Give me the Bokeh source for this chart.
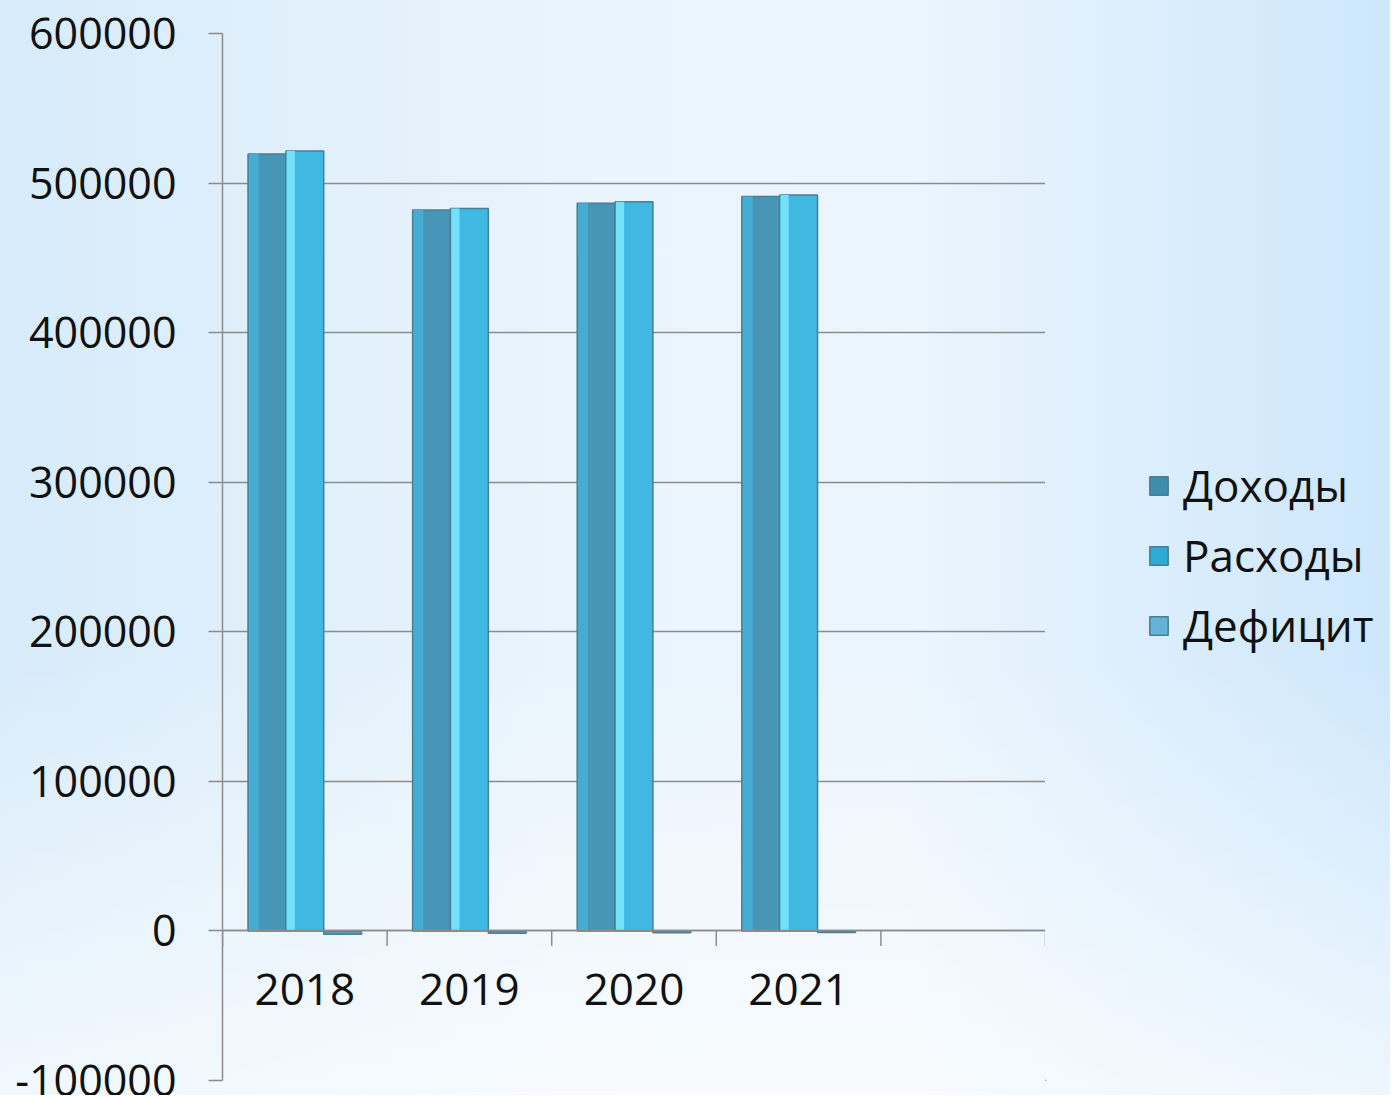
from bokeh.plotting import figure
from bokeh.layouts import row
from bokeh.models import (Range1d, FactorRange, FixedTicker, Legend, LegendItem,
                          ColumnDataSource, PrintfTickFormatter)
from bokeh.transform import dodge
from bokeh.embed import file_html
from bokeh.resources import INLINE

# ---- data ----
years = ["2018", "2019", "2020", "2021"]
slots = years + [" "]
dohody = [519500, 482000, 486500, 491000]
rashody = [521500, 483000, 487500, 492000]
deficit = [-2300, -1500, -1200, -1000]
series_names = ["Доходы", "Расходы", "Дефицит"]
y_ticks = [-100000, 0, 100000, 200000, 300000, 400000, 500000, 600000]

FONT = "Open Sans"
AXIS = "#8c8c8c"
EDGE = "#4d7d93"
COLORS = ["#4896b7", "#3fb8e2", "#5f9ab4"]
src = ColumnDataSource(dict(year=years, d=dohody, r=rashody, f=deficit))

p = figure(width=1045, height=1095, x_range=FactorRange(*slots), y_range=Range1d(-100000, 600000),
           output_backend="svg", toolbar_location=None,
           min_border_left=222, min_border_right=0, min_border_top=33, min_border_bottom=15)
p.border_fill_color = None
p.background_fill_color = None
p.outline_line_color = None

# grid
p.xgrid.visible = False
p.ygrid.ticker = FixedTicker(ticks=y_ticks)
p.ygrid.grid_line_color = AXIS
p.ygrid.grid_line_width = 1.5

# y axis
p.yaxis.ticker = FixedTicker(ticks=y_ticks)
p.yaxis.formatter = PrintfTickFormatter(format="%d")
p.yaxis.major_tick_out = 14
p.yaxis.major_tick_in = 0
p.yaxis.minor_tick_out = 0
p.yaxis.minor_tick_in = 0
p.yaxis.axis_line_color = AXIS
p.yaxis.axis_line_width = 1.5
p.yaxis.major_tick_line_color = AXIS
p.yaxis.major_tick_line_width = 1.5
p.yaxis.major_label_text_font = FONT
p.yaxis.major_label_text_font_size = "43px"
p.yaxis.major_label_text_color = "#111111"
p.yaxis.major_label_standoff = 32

# categorical x axis at y = 0
p.xaxis.fixed_location = 0
p.xaxis.axis_line_color = AXIS
p.xaxis.axis_line_width = 1.5
p.xaxis.major_tick_line_color = None
p.xaxis.major_tick_out = 0
p.xaxis.major_tick_in = 0
p.xaxis.major_label_text_font = FONT
p.xaxis.major_label_text_font_size = "44px"
p.xaxis.major_label_text_color = "#111111"
p.xaxis.major_label_standoff = 27

# tick marks at category boundaries
tick_len = 10000
bsrc = ColumnDataSource(dict(slot=slots, y0=[0] * len(slots), y1=[-tick_len] * len(slots)))
p.segment(x0=dodge("slot", -0.5, range=p.x_range), x1=dodge("slot", -0.5, range=p.x_range),
          y0="y0", y1="y1", source=bsrc, line_color=AXIS, line_width=1.5)
esrc = ColumnDataSource(dict(slot=slots[-1:], y0=[0], y1=[-tick_len]))
p.segment(x0=dodge("slot", 0.5, range=p.x_range), x1=dodge("slot", 0.5, range=p.x_range),
          y0="y0", y1="y1", source=esrc, line_color=AXIS, line_width=1.5)

W = 0.23
# Доходы
p.vbar(x=dodge("year", -W, range=p.x_range), top="d", width=W, source=src,
       fill_color=COLORS[0], line_color=EDGE, line_width=1.5)
p.vbar(x=dodge("year", -W - W / 2 + 0.035, range=p.x_range), top="d", width=0.06, source=src,
       fill_color="#45acd4", line_color=None)
# Расходы
p.vbar(x=dodge("year", 0, range=p.x_range), top="r", width=W, source=src,
       fill_color=COLORS[1], line_color=EDGE, line_width=1.5)
p.vbar(x=dodge("year", -W / 2 + 0.03, range=p.x_range), top="r", width=0.05, source=src,
       fill_color="#72e2fa", line_color=None)
# Дефицит
p.vbar(x=dodge("year", W, range=p.x_range), top="f", width=W, source=src,
       fill_color=COLORS[2], line_color="#557f93", line_width=1.5)

# ---- legend panel (separate figure to the right) ----
p2 = figure(width=345, height=1095, output_backend="svg", toolbar_location=None,
            x_range=Range1d(0, 1), y_range=Range1d(0, 1),
            x_axis_type=None, y_axis_type=None, min_border=0)
p2.border_fill_color = None
p2.background_fill_color = None
p2.outline_line_color = None
p2.grid.visible = False
legend_colors = ["#3f8daa", "#2eaad6", "#62b4d6"]
items = []
for name, col in zip(series_names, legend_colors):
    # off-screen proxy glyph, only used to draw the legend swatch
    rr = p2.vbar(x=[-5], top=[-5], bottom=[-5], width=0.01, fill_color=col, line_color=EDGE, line_width=1.5)
    items.append(LegendItem(label=name, renderers=[rr]))
legend = Legend(items=items, location=(102, 420), orientation="vertical",
                glyph_width=23, glyph_height=23, label_height=70, label_standoff=13,
                label_text_font=FONT, label_text_font_size="44px", label_text_color="#111111",
                padding=0, margin=0, spacing=0, border_line_color=None, background_fill_alpha=0)
p2.add_layout(legend)

layout = row(p, p2)
layout.styles = {"background": "linear-gradient(to bottom, rgba(255,255,255,0) 60%, rgba(255,255,255,0.65) 100%), "
                               "linear-gradient(to right, #d7ebfa 0%, #e9f4fc 40%, #ebf5fd 65%, #cde7fb 100%)"}

open("out.html", "w").write(file_html(layout, INLINE))
